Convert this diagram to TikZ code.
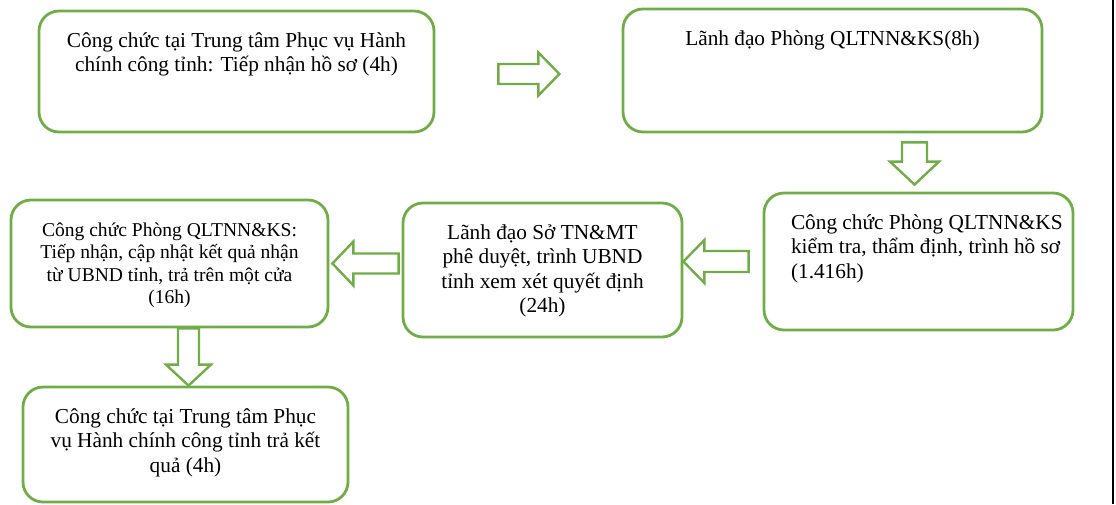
\documentclass[tikz,border=0pt]{standalone}
\usepackage{fontspec}
\setmainfont{Liberation Serif}
\usetikzlibrary{calc}
\usetikzlibrary{positioning}
\definecolor{boxgreen}{RGB}{112,173,71}
\tikzset{x=1pt, y=-1pt, font=\fontsize{21.3}{24.5}\selectfont}
\tikzstyle{stage} = [draw=boxgreen, line width=2.8pt, rounded corners=20pt, inner sep=0pt, fill=white]
\tikzstyle{fat} = [draw=boxgreen, line width=2.4pt, fill=white]
\tikzstyle{edge} = [draw=black, line width=2.5pt]
\newcommand{\stagetext}[4]{\parbox[c][#1][t]{#2}{#3\rule{0pt}{36pt}#4}}
\newcommand{\fatarrow}[5]{%
  \coordinate (tipbase) at ($(#2)!#5!(#1)$);
  \path[fat] ($(#1)!#3!90:(#2)$) -- ($(tipbase)!#3!90:(#2)$) -- ($(tipbase)!#4!90:(#2)$) -- (#2)
    -- ($(tipbase)!#4!-90:(#2)$) -- ($(tipbase)!#3!-90:(#2)$) -- ($(#1)!#3!-90:(#2)$) -- cycle;}

\begin{document}
\begin{tikzpicture}
		\useasboundingbox (0,0) rectangle (1116,504);

		\node [stage] (recv) at (236.5,71.5) {\stagetext{121pt}{395pt}{\centering}{Công chức tại Trung tâm Phục vụ Hành\\chính công tỉnh: Tiếp nhận hồ sơ (4h)}};
		\node [stage] (lead) at (832.5,70.5) {\stagetext{123pt}{419pt}{\centering}{Lãnh đạo Phòng QLTNN\&KS(8h)}};
		\node [stage] (check) at (918.5,261.5) {\stagetext{137pt}{309pt}{\raggedright\leftskip=27pt}{Công chức Phòng QLTNN\&KS\\kiểm tra, thẩm định, trình hồ sơ\\(1.416h)}};
		\node [stage] (approve) at (542.5,270) {\stagetext{134pt}{279pt}{\centering}{Lãnh đạo Sở TN\&MT\\phê duyệt, trình UBND\\tỉnh xem xét quyết định\\(24h)}};
		\node [stage, font=\fontsize{19.56}{22.5}\selectfont] (update) at (169.5,263.5) {\stagetext{127pt}{317pt}{\centering}{Công chức Phòng QLTNN\&KS:\\Tiếp nhận, cập nhật kết quả nhận\\từ UBND tỉnh, trả trên một cửa\\(16h)}};
		\node [stage] (deliver) at (185.5,444.5) {\stagetext{115pt}{325pt}{\centering}{Công chức tại Trung tâm Phục\\vụ Hành chính công tỉnh trả kết\\quả (4h)}};

		\coordinate (ab_s) at ($(recv.east)+(63,2.5)$);
		\coordinate (ab_e) at ($(ab_s)+(61,0)$);
		\coordinate (bc_s) at ($(lead.south)+(82,9)$);
		\coordinate (bc_e) at ($(bc_s |- check.north)+(0,-7)$);
		\coordinate (cd_s) at ($(check.west)+(-14,0)$);
		\coordinate (cd_e) at (approve.east |- cd_s);
		\coordinate (de_s) at ($(approve.west |- update.east)+(-3,0)$);
		\coordinate (de_e) at ($(update.east)+(3,0)$);
		\coordinate (ef_s) at ($(update.south)+(19,0)$);
		\coordinate (ef_e) at (ef_s |- deliver.north);

		\fatarrow{ab_s}{ab_e}{10pt}{21.5pt}{21pt}
		\fatarrow{bc_s}{bc_e}{12.5pt}{24.5pt}{23pt}
		\fatarrow{cd_s}{cd_e}{10.5pt}{21.5pt}{21pt}
		\fatarrow{de_s}{de_e}{10pt}{22pt}{21pt}
		\fatarrow{ef_s}{ef_e}{10.5pt}{22.5pt}{21pt}

		\coordinate (rim_t) at (1113,0);
		\coordinate (rim_b) at (1113,504);
		\draw [edge] (rim_t) -- (rim_b);
	\end{tikzpicture}
\end{document}
